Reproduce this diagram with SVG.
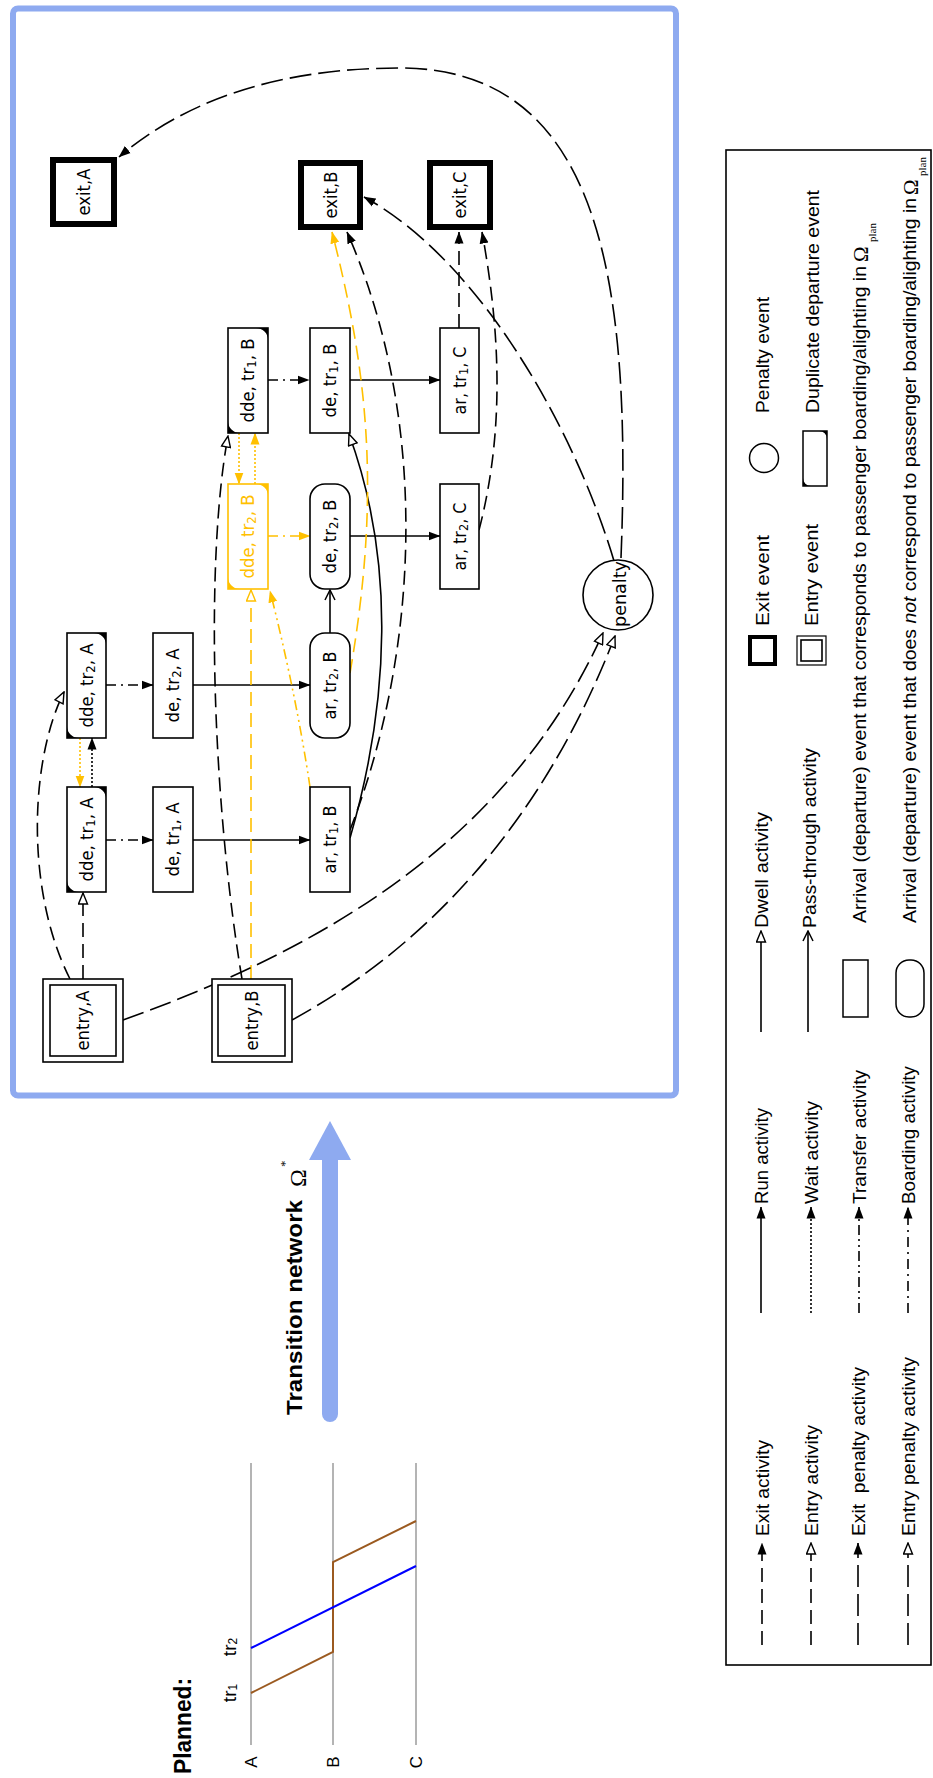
<svg xmlns="http://www.w3.org/2000/svg" width="933" height="1778" viewBox="0 0 933 1778">
<defs>
<style>
.n{fill:#fff;stroke:#000;stroke-width:1.6}
.ny{fill:#fff;stroke:#ffc000;stroke-width:1.6}
.ex{fill:#fff;stroke:#000;stroke-width:6}
.nt{font-family:"DejaVu Sans","Noto Sans",sans-serif;font-size:17px;text-anchor:middle;dominant-baseline:central;fill:#000}
.sub{font-size:12px}
.e{fill:none;stroke:#000;stroke-width:1.6}
.yl{stroke:#ffc000}
.ds{stroke-dasharray:14 7}
.pn{stroke-dasharray:22 7}
.dt{stroke-dasharray:2 2}
.bd{stroke-dasharray:10 5 2 5}
.tf{stroke-dasharray:10 4 2 4 2 4}
.lt{font-family:"Liberation Sans",Arial,sans-serif;font-size:18px;dominant-baseline:central;fill:#000}
.corner{fill:#000;stroke:none}
.cornery{fill:#ffc000;stroke:none}
</style>
<marker id="af" viewBox="0 0 12 10" refX="11.5" refY="5" markerWidth="12" markerHeight="10" markerUnits="userSpaceOnUse" orient="auto"><path d="M0,0.5 L12,5 L0,9.5 z" fill="#000"/></marker>
<marker id="afy" viewBox="0 0 12 10" refX="11.5" refY="5" markerWidth="12" markerHeight="10" markerUnits="userSpaceOnUse" orient="auto"><path d="M0,0.5 L12,5 L0,9.5 z" fill="#ffc000"/></marker>
<marker id="ah" viewBox="0 0 13 11" refX="12" refY="5.5" markerWidth="13" markerHeight="11" markerUnits="userSpaceOnUse" orient="auto"><path d="M1,1 L12,5.5 L1,10 z" fill="#fff" stroke="#000" stroke-width="1.4"/></marker>
<marker id="ahy" viewBox="0 0 13 11" refX="12" refY="5.5" markerWidth="13" markerHeight="11" markerUnits="userSpaceOnUse" orient="auto"><path d="M1,1 L12,5.5 L1,10 z" fill="#fff" stroke="#ffc000" stroke-width="1.4"/></marker>
<marker id="av" viewBox="0 0 12 12" refX="11" refY="6" markerWidth="12" markerHeight="12" markerUnits="userSpaceOnUse" orient="auto"><path d="M1,1 L11,6 L1,11" fill="none" stroke="#000" stroke-width="1.5"/></marker>
</defs>

<!-- Planned timetable -->
<g id="planned">
  <text class="lt" style="font-weight:bold;font-size:23px" transform="translate(183,1774) rotate(-90)" textLength="96" lengthAdjust="spacingAndGlyphs">Planned:</text>
  <g stroke="#b4b4b4" stroke-width="2">
    <line x1="251" y1="1463" x2="251" y2="1745"/>
    <line x1="333" y1="1463" x2="333" y2="1745"/>
    <line x1="416" y1="1463" x2="416" y2="1745"/>
  </g>
  <text class="lt" style="font-size:17px;text-anchor:middle" transform="translate(251,1762) rotate(-90)">A</text>
  <text class="lt" style="font-size:17px;text-anchor:middle" transform="translate(333,1762) rotate(-90)">B</text>
  <text class="lt" style="font-size:17px;text-anchor:middle" transform="translate(416,1762) rotate(-90)">C</text>
  <text class="lt" style="font-size:19px;text-anchor:middle" transform="translate(229,1693) rotate(-90)">tr<tspan style="font-size:12px" dy="4">1</tspan></text>
  <text class="lt" style="font-size:19px;text-anchor:middle" transform="translate(229,1647) rotate(-90)">tr<tspan style="font-size:12px" dy="4">2</tspan></text>
  <polyline points="251,1693 333,1652 333,1562 416,1521" fill="none" stroke="#9b5a20" stroke-width="2"/>
  <line x1="251" y1="1648" x2="416" y2="1566" stroke="#0000ff" stroke-width="2"/>
</g>

<!-- Transition arrow -->
<g id="transition">
  <line x1="330" y1="1414" x2="330" y2="1158" stroke="#8eaaf0" stroke-width="16" stroke-linecap="round"/>
  <polygon points="309,1160 351,1160 330,1121" fill="#8eaaf0"/>
  <text class="lt" style="font-weight:bold;font-size:22px" transform="translate(294,1415) rotate(-90)" textLength="215" lengthAdjust="spacingAndGlyphs">Transition network</text>
  <text style="font-family:'Liberation Serif',serif;font-size:24px;dominant-baseline:central" transform="translate(298,1187) rotate(-90)">Ω</text>
  <text style="font-family:'Liberation Serif',serif;font-size:13px;dominant-baseline:central" transform="translate(284,1167) rotate(-90)">*</text>
</g>

<!-- Frame -->
<rect id="frame" x="13" y="8.5" width="663" height="1087" rx="5" fill="none" stroke="#8eaaf0" stroke-width="6"/>

<!-- Connectors -->
<g id="connectors">
  <path class="e bd" d="M106,840 H153" marker-end="url(#af)"/>
  <path class="e" d="M193,840 H310" marker-end="url(#af)"/>
  <path class="e bd" d="M106,685 H153" marker-end="url(#af)"/>
  <path class="e" d="M193,685 H310" marker-end="url(#af)"/>
  <path class="e bd" d="M268,380 H309" marker-end="url(#af)"/>
  <path class="e" d="M350,380 H440" marker-end="url(#af)"/>
  <path class="e bd yl" d="M268,536 H310" marker-end="url(#afy)"/>
  <path class="e" d="M350,536 H440" marker-end="url(#af)"/>
  <path class="e" d="M330,633 V590" marker-end="url(#av)"/>
  <path class="e" d="M350,838 C390,700 395,560 349,434" marker-end="url(#ah)"/>
  <path class="e dt yl" d="M80,738 V787" marker-end="url(#afy)"/>
  <path class="e dt" d="M92,787 V738" marker-end="url(#af)"/>
  <path class="e dt yl" d="M239,433 V484" marker-end="url(#afy)"/>
  <path class="e dt yl" d="M255,484 V433" marker-end="url(#afy)"/>
  <path class="e ds" d="M83,979 V893" marker-end="url(#ah)"/>
  <path class="e ds" d="M70,979 C25,890 30,760 64,692" marker-end="url(#ah)"/>
  <path class="e ds" d="M242,979 C212,800 205,560 228,436" marker-end="url(#ah)"/>
  <path class="e ds yl" d="M251,979 V590" marker-end="url(#ahy)"/>
  <path class="e tf yl" d="M310,787 C300,720 285,650 270,591" marker-end="url(#afy)"/>
  <path class="e ds yl" d="M350,673 C380,500 370,380 332,232" marker-end="url(#afy)"/>
  <path class="e ds" d="M350,830 C420,650 430,420 347,232" marker-end="url(#af)"/>
  <path class="e ds" d="M459,328 V232" marker-end="url(#af)"/>
  <path class="e ds" d="M479,530 C505,430 500,330 482,232" marker-end="url(#af)"/>
  <path class="e pn" d="M614,561 C575,430 480,260 364,197" marker-end="url(#af)"/>
  <path class="e pn" d="M621,558 C632,280 600,68 400,68 C270,68 180,105 119,157" marker-end="url(#af)"/>
  <path class="e pn" d="M123,1020 C290,960 500,860 603,633" marker-end="url(#ah)"/>
  <path class="e pn" d="M292,1020 C420,950 540,830 615,636" marker-end="url(#ah)"/>
</g>

<!-- Exit nodes -->
<g id="exit-A"><rect class="ex" x="53" y="160" width="61" height="64"/><text class="nt" transform="translate(83.5,192) rotate(-90)" textLength="47" lengthAdjust="spacingAndGlyphs">exit,A</text></g>
<g id="exit-B"><rect class="ex" x="301" y="163" width="59" height="64"/><text class="nt" transform="translate(330.5,195) rotate(-90)" textLength="47" lengthAdjust="spacingAndGlyphs">exit,B</text></g>
<g id="exit-C"><rect class="ex" x="430" y="163" width="60" height="64"/><text class="nt" transform="translate(460,195) rotate(-90)" textLength="47" lengthAdjust="spacingAndGlyphs">exit,C</text></g>

<!-- Entry nodes -->
<g id="entry-A"><rect class="n" x="43" y="979" width="80" height="83"/><rect class="n" x="50" y="985" width="66" height="71"/><text class="nt" transform="translate(83,1020.5) rotate(-90)" textLength="60" lengthAdjust="spacingAndGlyphs">entry,A</text></g>
<g id="entry-B"><rect class="n" x="212" y="979" width="80" height="83"/><rect class="n" x="218" y="985" width="67" height="71"/><text class="nt" transform="translate(252,1020.5) rotate(-90)" textLength="60" lengthAdjust="spacingAndGlyphs">entry,B</text></g>

<!-- Duplicate departure nodes -->
<g id="dde-tr1-A"><rect class="n" x="67" y="787" width="39" height="105"/><path class="corner" d="M94,787 H106 V799 A12,12 0 0 0 94,787 Z M79,892 H67 V880 A12,12 0 0 0 79,892 Z"/><text class="nt" transform="translate(86.5,839.5) rotate(-90)" textLength="84" lengthAdjust="spacingAndGlyphs">dde, tr<tspan class="sub" dy="4">1</tspan><tspan dy="-4">, A</tspan></text></g>
<g id="dde-tr2-A"><rect class="n" x="67" y="633" width="39" height="105"/><path class="corner" d="M94,633 H106 V645 A12,12 0 0 0 94,633 Z M79,738 H67 V726 A12,12 0 0 0 79,738 Z"/><text class="nt" transform="translate(86.5,685.5) rotate(-90)" textLength="84" lengthAdjust="spacingAndGlyphs">dde, tr<tspan class="sub" dy="4">2</tspan><tspan dy="-4">, A</tspan></text></g>
<g id="dde-tr1-B"><rect class="n" x="228" y="328" width="40" height="105"/><path class="corner" d="M256,328 H268 V340 A12,12 0 0 0 256,328 Z M240,433 H228 V421 A12,12 0 0 0 240,433 Z"/><text class="nt" transform="translate(248,380.5) rotate(-90)" textLength="84" lengthAdjust="spacingAndGlyphs">dde, tr<tspan class="sub" dy="4">1</tspan><tspan dy="-4">, B</tspan></text></g>
<g id="dde-tr2-B"><rect class="ny" x="228" y="484" width="40" height="105"/><path class="cornery" d="M256,484 H268 V496 A12,12 0 0 0 256,484 Z M240,589 H228 V577 A12,12 0 0 0 240,589 Z"/><text class="nt" style="fill:#ffc000" transform="translate(248,536.5) rotate(-90)" textLength="84" lengthAdjust="spacingAndGlyphs">dde, tr<tspan class="sub" dy="4">2</tspan><tspan dy="-4">, B</tspan></text></g>

<!-- Departure / arrival nodes -->
<g id="de-tr1-A"><rect class="n" x="153" y="787" width="40" height="105"/><text class="nt" transform="translate(173,839.5) rotate(-90)" textLength="74" lengthAdjust="spacingAndGlyphs">de, tr<tspan class="sub" dy="4">1</tspan><tspan dy="-4">, A</tspan></text></g>
<g id="de-tr2-A"><rect class="n" x="153" y="633" width="40" height="105"/><text class="nt" transform="translate(173,685.5) rotate(-90)" textLength="74" lengthAdjust="spacingAndGlyphs">de, tr<tspan class="sub" dy="4">2</tspan><tspan dy="-4">, A</tspan></text></g>
<g id="ar-tr1-B"><rect class="n" x="310" y="787" width="40" height="105"/><text class="nt" transform="translate(330,839.5) rotate(-90)" textLength="68" lengthAdjust="spacingAndGlyphs">ar, tr<tspan class="sub" dy="4">1</tspan><tspan dy="-4">, B</tspan></text></g>
<g id="ar-tr2-B"><rect class="n" x="310" y="633" width="40" height="105" rx="15" ry="15"/><text class="nt" transform="translate(330,685.5) rotate(-90)" textLength="68" lengthAdjust="spacingAndGlyphs">ar, tr<tspan class="sub" dy="4">2</tspan><tspan dy="-4">, B</tspan></text></g>
<g id="de-tr2-B"><rect class="n" x="310" y="484" width="40" height="105" rx="15" ry="15"/><text class="nt" transform="translate(330,536.5) rotate(-90)" textLength="74" lengthAdjust="spacingAndGlyphs">de, tr<tspan class="sub" dy="4">2</tspan><tspan dy="-4">, B</tspan></text></g>
<g id="de-tr1-B"><rect class="n" x="310" y="328" width="40" height="105"/><text class="nt" transform="translate(330,380.5) rotate(-90)" textLength="74" lengthAdjust="spacingAndGlyphs">de, tr<tspan class="sub" dy="4">1</tspan><tspan dy="-4">, B</tspan></text></g>
<g id="ar-tr1-C"><rect class="n" x="440" y="328" width="39" height="105"/><text class="nt" transform="translate(459.5,380.5) rotate(-90)" textLength="68" lengthAdjust="spacingAndGlyphs">ar, tr<tspan class="sub" dy="4">1</tspan><tspan dy="-4">, C</tspan></text></g>
<g id="ar-tr2-C"><rect class="n" x="440" y="484" width="39" height="105"/><text class="nt" transform="translate(459.5,536.5) rotate(-90)" textLength="68" lengthAdjust="spacingAndGlyphs">ar, tr<tspan class="sub" dy="4">2</tspan><tspan dy="-4">, C</tspan></text></g>

<!-- Penalty node -->
<g id="penalty"><circle class="n" cx="618" cy="595" r="35"/><text class="nt" transform="translate(620,594) rotate(-90)" textLength="66" lengthAdjust="spacingAndGlyphs">penalty</text></g>

<!-- Legend -->
<g id="legend">
  <rect x="726" y="150" width="205" height="1515" fill="none" stroke="#000" stroke-width="1.6"/>
  <path class="e ds" d="M762,1645 V1543" marker-end="url(#af)"/>
  <text class="lt" transform="translate(763,1536) rotate(-90)" textLength="96" lengthAdjust="spacingAndGlyphs">Exit activity</text>
  <path class="e" d="M761,1313 V1207" marker-end="url(#af)"/>
  <text class="lt" transform="translate(762,1204) rotate(-90)" textLength="96" lengthAdjust="spacingAndGlyphs">Run activity</text>
  <path class="e" d="M761,1032 V931" marker-end="url(#ah)"/>
  <text class="lt" transform="translate(762,928) rotate(-90)" textLength="116" lengthAdjust="spacingAndGlyphs">Dwell activity</text>
  <rect x="750" y="637" width="25" height="27" fill="#fff" stroke="#000" stroke-width="4"/>
  <text class="lt" transform="translate(763,626) rotate(-90)" textLength="91" lengthAdjust="spacingAndGlyphs">Exit event</text>
  <circle cx="764" cy="458" r="14.5" fill="#fff" stroke="#000" stroke-width="1.5"/>
  <text class="lt" transform="translate(763,413) rotate(-90)" textLength="116" lengthAdjust="spacingAndGlyphs">Penalty event</text>
  <path class="e ds" d="M811,1645 V1543" marker-end="url(#ah)"/>
  <text class="lt" transform="translate(812,1536) rotate(-90)" textLength="111" lengthAdjust="spacingAndGlyphs">Entry activity</text>
  <path class="e dt" d="M811,1313 V1207" marker-end="url(#af)"/>
  <text class="lt" transform="translate(812,1204) rotate(-90)" textLength="103" lengthAdjust="spacingAndGlyphs">Wait activity</text>
  <path class="e" d="M808,1032 V931" marker-end="url(#av)"/>
  <text class="lt" transform="translate(810,928) rotate(-90)" textLength="180" lengthAdjust="spacingAndGlyphs">Pass-through activity</text>
  <rect x="797" y="636" width="29" height="29" fill="#fff" stroke="#000" stroke-width="1.2"/>
  <rect x="801" y="640" width="21" height="21" fill="#fff" stroke="#000" stroke-width="1.6"/>
  <text class="lt" transform="translate(812,626) rotate(-90)" textLength="102" lengthAdjust="spacingAndGlyphs">Entry event</text>
  <rect x="803" y="431" width="24" height="55" fill="#fff" stroke="#000" stroke-width="1.5"/>
  <path class="corner" d="M819,431 H827 V439 A8,8 0 0 0 819,431 Z M811,486 H803 V478 A8,8 0 0 0 811,486 Z"/>
  <text class="lt" transform="translate(813,413) rotate(-90)" textLength="223" lengthAdjust="spacingAndGlyphs">Duplicate departure event</text>
  <path class="e pn" d="M858,1645 V1543" marker-end="url(#af)"/>
  <text class="lt" style="white-space:pre" transform="translate(859,1536) rotate(-90)" textLength="169" lengthAdjust="spacingAndGlyphs">Exit  penalty activity</text>
  <path class="e tf" d="M859,1313 V1207" marker-end="url(#af)"/>
  <text class="lt" transform="translate(860,1204) rotate(-90)" textLength="134" lengthAdjust="spacingAndGlyphs">Transfer activity</text>
  <rect x="843" y="960" width="25" height="57" fill="#fff" stroke="#000" stroke-width="1.5"/>
  <text class="lt" transform="translate(860,923) rotate(-90)" textLength="657" lengthAdjust="spacingAndGlyphs">Arrival (departure) event that corresponds to passenger boarding/alighting in</text>
  <text style="font-family:'Liberation Serif',serif;font-size:21px;dominant-baseline:central" transform="translate(861,262) rotate(-90)">Ω</text>
  <text style="font-family:'Liberation Serif',serif;font-size:11px;dominant-baseline:central" transform="translate(872,242) rotate(-90)">plan</text>
  <path class="e pn" d="M908,1645 V1543" marker-end="url(#ah)"/>
  <text class="lt" transform="translate(909,1536) rotate(-90)" textLength="179" lengthAdjust="spacingAndGlyphs">Entry penalty activity</text>
  <path class="e bd" d="M908,1313 V1207" marker-end="url(#af)"/>
  <text class="lt" transform="translate(909,1204) rotate(-90)" textLength="138" lengthAdjust="spacingAndGlyphs">Boarding activity</text>
  <rect x="896" y="960" width="28" height="57" rx="13" ry="13" fill="#fff" stroke="#000" stroke-width="1.5"/>
  <text class="lt" transform="translate(910,923) rotate(-90)" textLength="725" lengthAdjust="spacingAndGlyphs">Arrival (departure) event that does <tspan font-style="italic">not</tspan> correspond to passenger boarding/alighting in</text>
  <text style="font-family:'Liberation Serif',serif;font-size:21px;dominant-baseline:central" transform="translate(911,195) rotate(-90)">Ω</text>
  <text style="font-family:'Liberation Serif',serif;font-size:11px;dominant-baseline:central" transform="translate(922,176) rotate(-90)">plan</text>
</g>
</svg>
